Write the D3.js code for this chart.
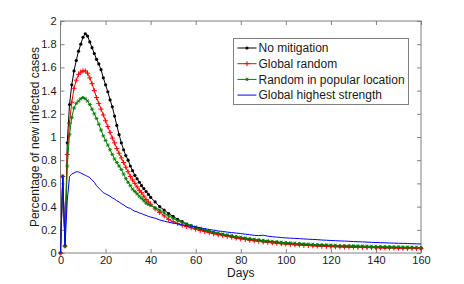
<!DOCTYPE html>
<html lang="en">
<head>
<meta charset="UTF-8">
<title>New infected cases</title>
<script src="https://d3js.org/d3.v7.min.js"></script>
<style>
    body { margin: 0; background: #fff; }
    text { font-family: "Liberation Sans", Arial, sans-serif; fill: #1a1a1a; }
</style>
</head>
<body>
<script>

    // days 0..40 every day, then every 2 days up to 160
    var days = d3.range(0, 41).concat(d3.range(42, 161, 2));

    var noMitigation = [0, 0.66, 0.06, 0.95, 1.28, 1.45, 1.57, 1.66, 1.74, 1.80, 1.86,
        1.89, 1.87, 1.82, 1.77, 1.72, 1.67, 1.63, 1.58, 1.51, 1.45,
        1.39, 1.32, 1.26, 1.18, 1.10, 1.02, 0.95, 0.89, 0.84, 0.80,
        0.75, 0.71, 0.67, 0.64, 0.61, 0.58, 0.555, 0.53, 0.505, 0.48,
        0.44, 0.40, 0.37, 0.34, 0.315, 0.29, 0.27, 0.25, 0.235, 0.22,
        0.205, 0.195, 0.185, 0.175, 0.165, 0.158, 0.15, 0.143, 0.136, 0.13,
        0.124, 0.118, 0.113, 0.108, 0.104, 0.099, 0.095, 0.091, 0.087, 0.084,
        0.081, 0.078, 0.076, 0.073, 0.071, 0.069, 0.067, 0.065, 0.063, 0.061,
        0.06, 0.058, 0.057, 0.056, 0.055, 0.054, 0.053, 0.052, 0.051, 0.05,
        0.049, 0.048, 0.047, 0.047, 0.046, 0.045, 0.044, 0.044, 0.043, 0.042];

    var globalRandom = [0, 0.66, 0.06, 0.85, 1.12, 1.30, 1.42, 1.49, 1.54, 1.56, 1.57,
        1.57, 1.55, 1.51, 1.46, 1.40, 1.34, 1.29, 1.24, 1.19, 1.14,
        1.09, 1.04, 0.99, 0.95, 0.90, 0.86, 0.82, 0.78, 0.74, 0.70,
        0.66, 0.63, 0.60, 0.57, 0.54, 0.52, 0.49, 0.46, 0.44, 0.42,
        0.38, 0.35, 0.32, 0.29, 0.27, 0.255, 0.24, 0.228, 0.217, 0.205,
        0.194, 0.184, 0.175, 0.166, 0.158, 0.15, 0.143, 0.136, 0.129, 0.122,
        0.116, 0.11, 0.105, 0.1, 0.096, 0.092, 0.088, 0.084, 0.08, 0.077,
        0.074, 0.071, 0.069, 0.066, 0.064, 0.062, 0.06, 0.058, 0.057, 0.055,
        0.054, 0.053, 0.052, 0.051, 0.05, 0.049, 0.048, 0.047, 0.047, 0.046,
        0.045, 0.044, 0.044, 0.043, 0.043, 0.042, 0.041, 0.041, 0.04, 0.04];

    var randomPopular = [0, 0.66, 0.06, 0.75, 1.02, 1.17, 1.25, 1.29, 1.31, 1.33, 1.34,
        1.33, 1.31, 1.28, 1.24, 1.20, 1.16, 1.11, 1.06, 1.01, 0.97,
        0.93, 0.89, 0.85, 0.81, 0.78, 0.75, 0.72, 0.68, 0.64, 0.61,
        0.58, 0.55, 0.53, 0.51, 0.49, 0.47, 0.45, 0.43, 0.42, 0.41,
        0.39, 0.37, 0.345, 0.32, 0.30, 0.28, 0.262, 0.248, 0.235, 0.224,
        0.212, 0.2, 0.19, 0.18, 0.171, 0.163, 0.156, 0.148, 0.141, 0.135,
        0.129, 0.123, 0.118, 0.113, 0.108, 0.104, 0.1, 0.096, 0.092, 0.089,
        0.086, 0.083, 0.08, 0.078, 0.076, 0.074, 0.072, 0.07, 0.069, 0.067,
        0.066, 0.064, 0.063, 0.062, 0.061, 0.06, 0.059, 0.058, 0.057, 0.056,
        0.055, 0.054, 0.053, 0.052, 0.051, 0.05, 0.05, 0.049, 0.048, 0.047];

    var highestStrength = [0, 0.66, 0.06, 0.45, 0.66, 0.68, 0.69, 0.70, 0.70, 0.69, 0.68,
        0.67, 0.66, 0.65, 0.63, 0.61, 0.58, 0.56, 0.54, 0.52, 0.51,
        0.50, 0.49, 0.475, 0.465, 0.45, 0.44, 0.425, 0.415, 0.40, 0.39,
        0.385, 0.37, 0.36, 0.355, 0.345, 0.34, 0.33, 0.325, 0.315, 0.31,
        0.30, 0.285, 0.275, 0.265, 0.258, 0.25, 0.242, 0.236, 0.23, 0.224,
        0.218, 0.21, 0.203, 0.197, 0.19, 0.186, 0.18, 0.176, 0.172, 0.168,
        0.162, 0.158, 0.152, 0.15, 0.153, 0.145, 0.14, 0.137, 0.133, 0.13,
        0.128, 0.126, 0.124, 0.121, 0.119, 0.117, 0.115, 0.112, 0.11, 0.108,
        0.106, 0.104, 0.103, 0.101, 0.099, 0.097, 0.096, 0.094, 0.092, 0.09,
        0.089, 0.088, 0.086, 0.085, 0.084, 0.083, 0.082, 0.08, 0.079, 0.078];

    var seriesNames = ['No mitigation', 'Global random', 'Random in popular location', 'Global highest strength'];
    var seriesColors = ['#000000', '#ff0000', '#008000', '#0000ff'];
    var seriesMarkers = ['dot', 'plus', 'star', 'none'];
    var xTicks = [0, 20, 40, 60, 80, 100, 120, 140, 160];
    var yTicks = [0, 0.2, 0.4, 0.6, 0.8, 1, 1.2, 1.4, 1.6, 1.8, 2];

    var allValues = [noMitigation, globalRandom, randomPopular, highestStrength];
    var series = seriesNames.map(function (name, i) {
        return {
            name: name,
            color: seriesColors[i],
            marker: seriesMarkers[i],
            points: days.map(function (d, j) { return {day: d, value: allValues[i][j]}; })
        };
    });

    var width = 464, height = 284;
    var margin = {top: 21, right: 43, bottom: 31, left: 60.5};
    var plotW = width - margin.left - margin.right,
        plotH = height - margin.top - margin.bottom;

    var svg = d3.select('body').append('svg')
        .attr('width', width)
        .attr('height', height);

    var g = svg.append('g')
        .attr('transform', 'translate(' + margin.left + ',' + margin.top + ')');

    var x = d3.scaleLinear().domain([0, 160]).range([0, plotW]);
    var y = d3.scaleLinear().domain([0, 2]).range([plotH, 0]);

    var axisColor = '#808080';

    // box with inward ticks on all four sides
    g.append('rect')
        .attr('width', plotW).attr('height', plotH)
        .attr('fill', 'none').attr('stroke', axisColor).attr('stroke-width', 1);

    function styleAxis(sel) {
        sel.select('.domain').remove();
        sel.selectAll('.tick line').attr('stroke', axisColor);
        sel.selectAll('.tick text').style('font-size', '11px').attr('fill', '#1a1a1a');
    }

    g.append('g').attr('transform', 'translate(0,' + plotH + ')')
        .call(d3.axisBottom(x).tickValues(xTicks).tickSize(-4).tickPadding(3).tickFormat(d3.format('d')))
        .call(styleAxis);
    g.append('g')
        .call(d3.axisTop(x).tickValues(xTicks).tickSize(-4).tickFormat(''))
        .call(styleAxis);
    g.append('g')
        .call(d3.axisLeft(y).tickValues(yTicks).tickSize(-4).tickPadding(4).tickFormat(function (d) { return d3.format('~g')(d); }))
        .call(styleAxis);
    g.append('g').attr('transform', 'translate(' + plotW + ',0)')
        .call(d3.axisRight(y).tickValues(yTicks).tickSize(-4).tickFormat(''))
        .call(styleAxis);

    var line = d3.line()
        .x(function (d) { return x(d.day); })
        .y(function (d) { return y(d.value); });

    function drawMarker(sel, type, color) {
        if (type === 'dot') {
            sel.append('circle').attr('r', 1.6).attr('fill', color);
        } else if (type === 'plus') {
            sel.append('path').attr('d', 'M-2.5,0H2.5M0,-2.5V2.5')
                .attr('stroke', color).attr('stroke-width', 1).attr('fill', 'none');
        } else if (type === 'star') {
            sel.append('path').attr('d', 'M-2,0H2M-1,-1.7L1,1.7M-1,1.7L1,-1.7')
                .attr('stroke', color).attr('stroke-width', 0.9).attr('fill', 'none');
        }
    }

    var plot = g.append('g');
    series.forEach(function (s) {
        plot.append('path')
            .datum(s.points)
            .attr('d', line)
            .attr('fill', 'none')
            .attr('stroke', s.color)
            .attr('stroke-width', 1);
        if (s.marker !== 'none') {
            plot.append('g').selectAll('g')
                .data(s.points)
                .enter().append('g')
                .attr('transform', function (d) { return 'translate(' + x(d.day) + ',' + y(d.value) + ')'; })
                .each(function () { drawMarker(d3.select(this), s.marker, s.color); });
        }
    });

    // legend
    var legend = svg.append('g').attr('transform', 'translate(233.5,38.5)');
    legend.append('rect')
        .attr('width', 175).attr('height', 66)
        .attr('fill', '#fff').attr('stroke', axisColor);
    var items = legend.selectAll('.item')
        .data(series)
        .enter().append('g')
        .attr('class', 'item')
        .attr('transform', function (d, i) { return 'translate(0,' + (9.5 + i * 15.7) + ')'; });
    items.append('line')
        .attr('x1', 4).attr('x2', 23)
        .attr('stroke', function (d) { return d.color; });
    items.each(function (d) {
        var m = d3.select(this).append('g').attr('transform', 'translate(13.5,0)');
        drawMarker(m, d.marker, d.color);
    });
    items.append('text')
        .attr('x', 25).attr('dy', '0.35em')
        .style('font-size', '12px')
        .text(function (d) { return d.name; });

    // axis titles
    svg.append('text')
        .attr('x', margin.left + plotW / 2).attr('y', 277)
        .attr('text-anchor', 'middle')
        .style('font-size', '12px')
        .text('Days');
    svg.append('text')
        .attr('transform', 'translate(39,' + (margin.top + plotH / 2) + ') rotate(-90)')
        .attr('text-anchor', 'middle')
        .style('font-size', '12px')
        .text('Percentage of new infected cases');

</script>
</body>
</html>
